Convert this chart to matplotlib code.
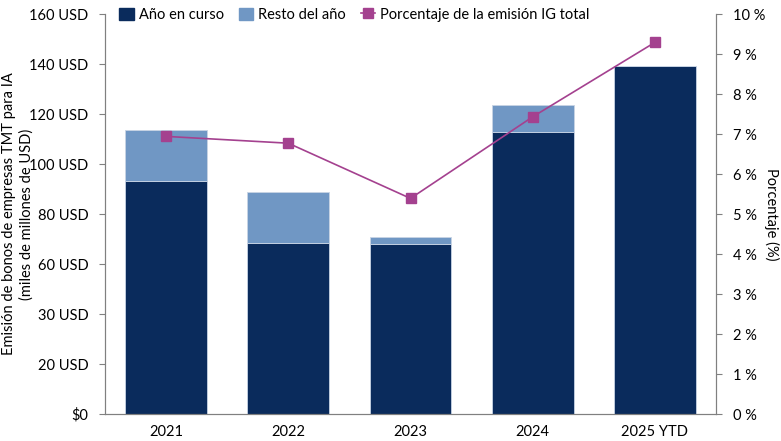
import matplotlib
matplotlib.use("Agg")
import matplotlib.pyplot as plt
from matplotlib.lines import Line2D
from matplotlib.patches import Patch
import numpy as np

plt.rcParams['font.family'] = ['Lato', 'DejaVu Sans']

categories = ["2021", "2022", "2023", "2024", "2025 YTD"]
ytd_values = [93.1, 68.4, 68.0, 112.9, 139.3]
total_values = [113.5, 88.8, 70.8, 123.5, 139.3]
rest_values = [t - y for t, y in zip(total_values, ytd_values)]
pct_values = [6.94, 6.77, 5.39, 7.43, 9.29]

left_ticks = [0, 20, 40, 60, 80, 100, 120, 140, 160]
left_labels = ["$0", "20 USD", "30 USD", "60 USD", "80 USD", "100 USD", "120 USD", "140 USD", "160 USD"]
right_ticks = list(range(0, 11))
right_labels = [f"{t} %" for t in right_ticks]

dark = "#0a2b5c"
light = "#7097c4"
magenta = "#a4418f"
spine_c = "#808080"
fs = 10.5

fig = plt.figure(figsize=(7.81, 4.41), dpi=100)
ax = fig.add_axes([105/781, 27/441, 611/781, 400/441])
x = np.arange(len(categories))
w = 0.67
ax.bar(x, ytd_values, w, color=dark, edgecolor="#c8d4e4", linewidth=0.6, zorder=2)
ax.bar(x, rest_values, w, bottom=ytd_values, color=light, edgecolor="#c8d4e4", linewidth=0.6, zorder=2)
ax.set_xlim(-0.5, len(categories) - 0.5)
ax.set_ylim(0, 160)
ax.set_yticks(left_ticks)
ax.set_yticklabels(left_labels, fontsize=fs)
ax.set_xticks(x)
ax.set_xticklabels(categories, fontsize=fs)
ax.tick_params(axis='x', length=0, pad=8)
ax.tick_params(axis='y', length=4, color=spine_c, pad=8)
ax.spines['top'].set_visible(False)
for s in ['left', 'right', 'bottom']:
    ax.spines[s].set_color(spine_c)
fig.text(18/781, 0.515, "Emisión de bonos de empresas TMT para IA\n(miles de millones de USD)",
         rotation=90, ha='center', va='center', fontsize=fs, linespacing=1.3)

ax2 = ax.twinx()
ax2.plot(x, pct_values, color=magenta, lw=1.2, marker='s', markersize=7, zorder=3)
ax2.set_ylim(0, 10)
ax2.set_yticks(right_ticks)
ax2.set_yticklabels(right_labels, fontsize=fs)
ax2.tick_params(axis='y', length=4, color=spine_c, pad=8)
ax2.spines['top'].set_visible(False)
for s in ['left', 'right', 'bottom']:
    ax2.spines[s].set_color(spine_c)
ax2.set_ylabel("Porcentaje (%)", fontsize=fs, rotation=270, labelpad=10)

handles = [Patch(color=dark, label="Año en curso"),
           Patch(color=light, label="Resto del año"),
           Line2D([0], [0], color=magenta, lw=1.2, marker='s', markersize=7, label="Porcentaje de la emisión IG total")]
leg = ax.legend(handles=handles, ncol=3, frameon=False, fontsize=fs,
                loc='upper left', bbox_to_anchor=(0.014, 1.03), handlelength=1.0,
                handleheight=0.9, handletextpad=0.35, columnspacing=1.0, borderaxespad=0)

fig.savefig("out.png", dpi=100)
